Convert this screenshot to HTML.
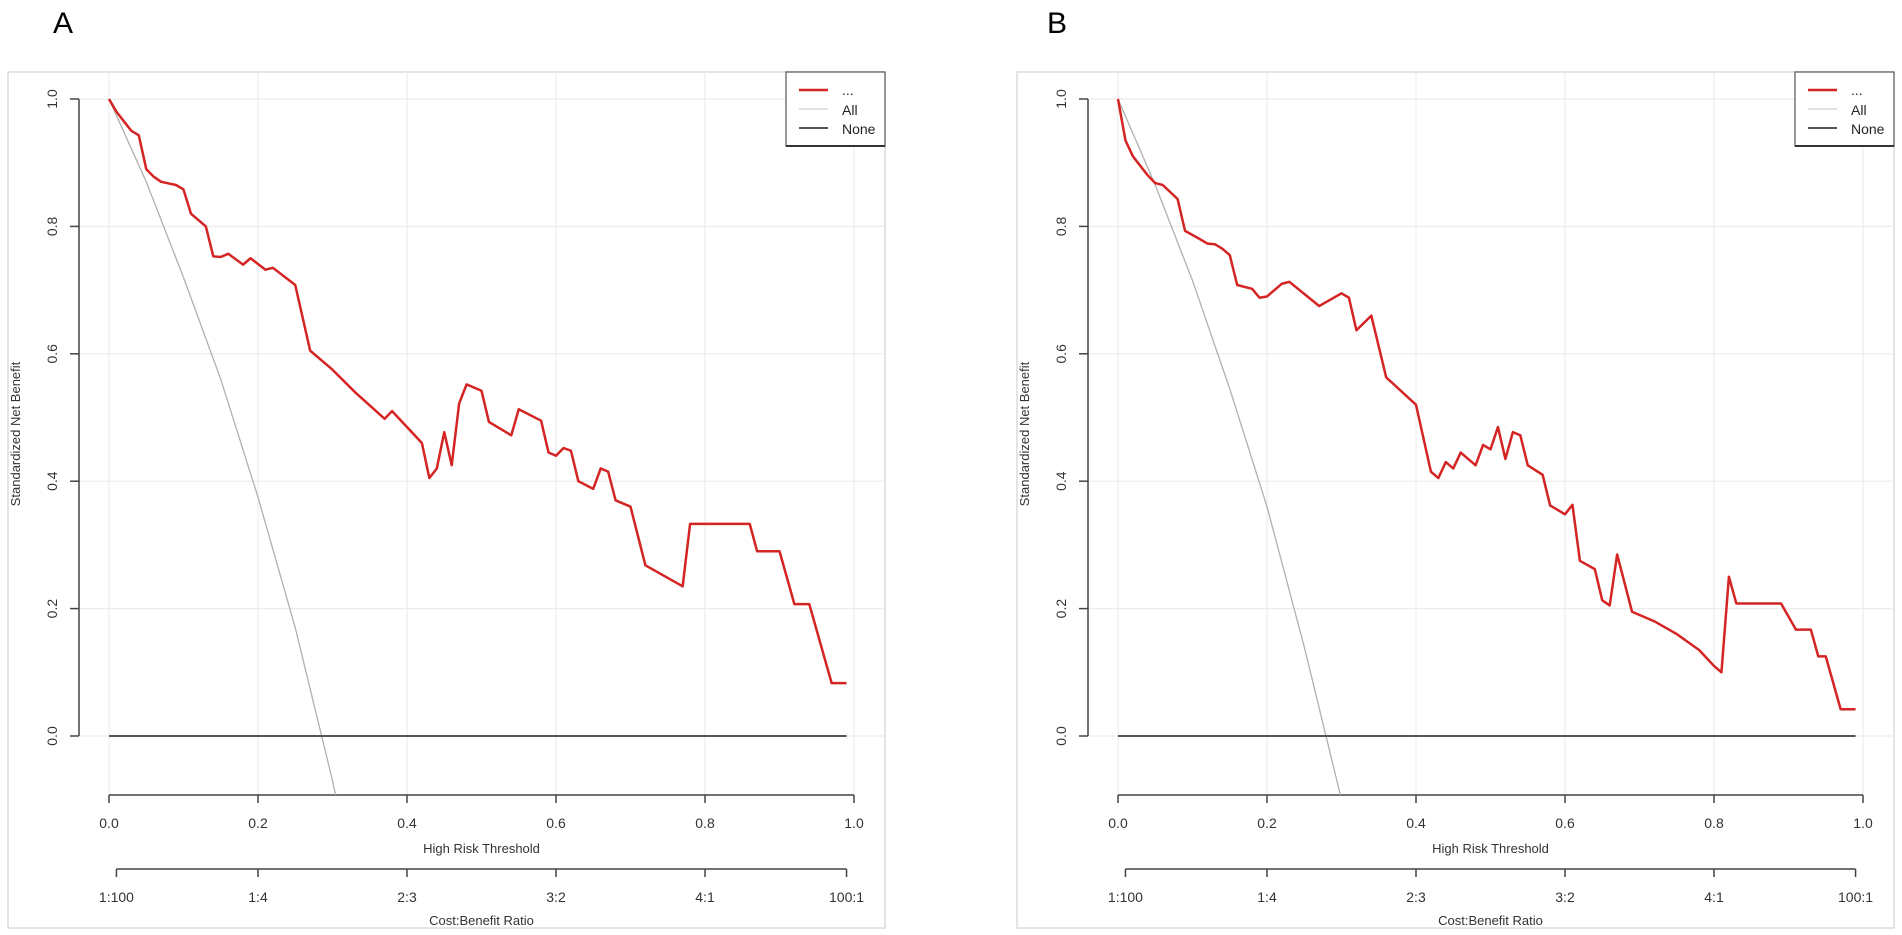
<!DOCTYPE html>
<html><head><meta charset="utf-8"><style>
html,body{margin:0;padding:0;background:#fff;}
svg{display:block;font-family:"Liberation Sans",Arial,sans-serif;}
</style></head><body>
<svg id="chart" width="1902" height="935" viewBox="0 0 1902 935"></svg>
<script>
const xTicks = [0, 0.2, 0.4, 0.6, 0.8, 1.0];
const xTickLabels = ["0.0", "0.2", "0.4", "0.6", "0.8", "1.0"];
const yTicks = [0, 0.2, 0.4, 0.6, 0.8, 1.0];
const yTickLabels = ["0.0", "0.2", "0.4", "0.6", "0.8", "1.0"];
const costTicks = [0.01, 0.2, 0.4, 0.6, 0.8, 0.99];
const costLabels = ["1:100", "1:4", "2:3", "3:2", "4:1", "100:1"];
const panelLabels = ["A", "B"];

const modelAx = [0,0.01,0.02,0.03,0.04,0.05,0.06,0.07,0.09,0.10,0.11,0.13,0.14,0.15,0.16,0.18,0.19,0.21,0.22,0.25,0.27,0.30,0.33,0.37,0.38,0.42,0.43,0.44,0.45,0.46,0.47,0.48,0.50,0.51,0.54,0.55,0.58,0.59,0.60,0.61,0.62,0.63,0.65,0.66,0.67,0.68,0.70,0.72,0.77,0.78,0.86,0.87,0.90,0.92,0.94,0.97,0.99];
const modelAy = [1.00,0.98,0.965,0.95,0.943,0.89,0.878,0.87,0.865,0.858,0.82,0.80,0.753,0.752,0.757,0.74,0.75,0.732,0.735,0.708,0.605,0.575,0.54,0.498,0.51,0.46,0.405,0.42,0.477,0.425,0.522,0.552,0.542,0.493,0.472,0.513,0.495,0.445,0.44,0.452,0.448,0.40,0.388,0.42,0.415,0.37,0.36,0.268,0.235,0.333,0.333,0.29,0.29,0.207,0.207,0.083,0.083];
const modelBx = [0,0.01,0.02,0.04,0.05,0.06,0.08,0.09,0.11,0.12,0.13,0.14,0.15,0.16,0.18,0.19,0.20,0.22,0.23,0.27,0.30,0.31,0.32,0.34,0.36,0.40,0.42,0.43,0.44,0.45,0.46,0.48,0.49,0.50,0.51,0.52,0.53,0.54,0.55,0.57,0.58,0.60,0.61,0.62,0.64,0.65,0.66,0.67,0.69,0.72,0.75,0.78,0.80,0.81,0.82,0.83,0.89,0.91,0.93,0.94,0.95,0.97,0.99];
const modelBy = [1.00,0.935,0.91,0.88,0.868,0.865,0.843,0.793,0.78,0.773,0.772,0.765,0.755,0.708,0.702,0.688,0.69,0.71,0.713,0.675,0.695,0.688,0.637,0.66,0.563,0.52,0.415,0.405,0.43,0.42,0.445,0.425,0.457,0.45,0.485,0.435,0.477,0.472,0.425,0.41,0.362,0.348,0.363,0.275,0.262,0.213,0.205,0.285,0.195,0.18,0.16,0.135,0.11,0.10,0.25,0.208,0.208,0.167,0.167,0.125,0.125,0.042,0.042];
const allX = [0,0.05,0.10,0.15,0.20,0.25,0.30,0.32];
const allAy = [1.0,0.87,0.72,0.56,0.375,0.17,-0.07,-0.18];
const allBy = [1.0,0.865,0.715,0.545,0.36,0.14,-0.10,-0.20];
const noneX = [0, 0.99];
const noneY = [0, 0];

const NS = "http://www.w3.org/2000/svg";
const svg = document.getElementById("chart");
function mk(tag, attrs, parent){const e=document.createElementNS(NS,tag);for(const k in attrs)e.setAttribute(k,attrs[k]);(parent||svg).appendChild(e);return e;}

const panels = [
 {ox:0, mx:modelAx, my:modelAy, ay:allAy},
 {ox:1009, mx:modelBx, my:modelBy, ay:allBy}
];

panels.forEach((p,i)=>{
 const g = mk("g",{});
 
 
 const x0=109+p.ox, x1=854+p.ox;
 const X = v => x0 + v*(x1-x0);
 const Y = v => 736 - v*637;
 const fl = 8+p.ox, fr = 885+p.ox;
 const frame = mk("rect",{x:fl,y:72,width:fr-fl,height:856,fill:"none",stroke:"#dcdcdc","stroke-width":1.5},g);
 
 
 const lab = mk("text",{x:63+p.ox-(i?15:0),y:33,"font-size":30,fill:"#000","text-anchor":"middle"},g);
 lab.textContent = panelLabels[i];
 
 
 // grid
 xTicks.forEach(t=>{
  const l=mk("line",{x1:X(t),x2:X(t),y1:72,y2:795,stroke:"#ececec","stroke-width":1.2},g);
  
  
 });
 yTicks.forEach(t=>{
  const l=mk("line",{x1:80+p.ox,x2:fr,y1:Y(t),y2:Y(t),stroke:"#ececec","stroke-width":1.2},g);
  
  
 });
 // y axis
 const ya=mk("line",{x1:79+p.ox,x2:79+p.ox,y1:Y(0),y2:Y(1),stroke:"#444","stroke-width":1.5},g);
 
 
 yTicks.forEach((t,k)=>{
  mk("line",{x1:70+p.ox,x2:79+p.ox,y1:Y(t),y2:Y(t),stroke:"#444","stroke-width":1.5},g);
  const tx=mk("text",{x:57+p.ox,y:Y(t),"font-size":14,fill:"#333","text-anchor":"middle",transform:`rotate(-90 ${57+p.ox} ${Y(t)})`},g);
  tx.textContent=yTickLabels[k];
  
  
 });
 const yt=mk("text",{x:20+p.ox,y:434,"font-size":13,fill:"#333","text-anchor":"middle",transform:`rotate(-90 ${20+p.ox} 434)`},g);
 yt.textContent="Standardized Net Benefit";
 
 
 // x axis
 const xa=mk("line",{x1:X(0),x2:X(1),y1:795,y2:795,stroke:"#444","stroke-width":1.5},g);
 
 
 xTicks.forEach((t,k)=>{
  mk("line",{x1:X(t),x2:X(t),y1:795,y2:803,stroke:"#444","stroke-width":1.5},g);
  const tx=mk("text",{x:X(t),y:828,"font-size":14,fill:"#333","text-anchor":"middle"},g);
  tx.textContent=xTickLabels[k];
  
  
 });
 const xt=mk("text",{x:(x0+x1)/2,y:853,"font-size":13,fill:"#333","text-anchor":"middle"},g);
 xt.textContent="High Risk Threshold";
 
 
 // cost axis
 const ca=mk("line",{x1:X(costTicks[0]),x2:X(costTicks[costTicks.length-1]),y1:869,y2:869,stroke:"#444","stroke-width":1.5},g);
 
 
 costTicks.forEach((t,k)=>{
  mk("line",{x1:X(t),x2:X(t),y1:869,y2:877,stroke:"#444","stroke-width":1.5},g);
  const tx=mk("text",{x:X(t),y:902,"font-size":14,fill:"#333","text-anchor":"middle"},g);
  tx.textContent=costLabels[k];
  
  
 });
 const ct=mk("text",{x:(x0+x1)/2,y:925,"font-size":13,fill:"#333","text-anchor":"middle"},g);
 ct.textContent="Cost:Benefit Ratio";
 
 
 // clip
 const cp=mk("clipPath",{id:"clip"+i},g);
 mk("rect",{x:x0-5,y:72,width:x1-x0+10,height:795-72},cp);
 const series=mk("g",{"clip-path":`url(#clip${i})`},g);
 const all=mk("polyline",{points:allX.map((v,k)=>X(v)+","+Y(p.ay[k])).join(" "),fill:"none",stroke:"#b0b0b0","stroke-width":1.3},series);
 
 
 const none=mk("polyline",{points:noneX.map((v,k)=>X(v)+","+Y(noneY[k])).join(" "),fill:"none",stroke:"#555","stroke-width":2},series);
 
 
 const mdl=mk("polyline",{points:p.mx.map((v,k)=>X(v)+","+Y(p.my[k])).join(" "),fill:"none",stroke:"#d42424","stroke-width":2.5,"stroke-linejoin":"round"},series);
 
 
 // legend
 const lx=786+p.ox;
 const lg=mk("g",{},g);
 
 
 mk("rect",{x:lx,y:72,width:99,height:74,fill:"#fff",stroke:"#555","stroke-width":1.2},lg);
 mk("line",{x1:lx,x2:lx+99,y1:146,y2:146,stroke:"#333","stroke-width":2},lg);
 const ent=[["...","#d42424",2.5,90,95],["All","#cfcfcf",1.3,109,115],["None","#555",2,128,134]];
 ent.forEach(e=>{
  const eg=mk("g",{},lg);
  
  
  mk("line",{x1:lx+13,x2:lx+42,y1:e[3],y2:e[3],stroke:e[1],"stroke-width":e[2]},eg);
  const t=mk("text",{x:lx+56,y:e[4],"font-size":14,fill:"#222"},eg);
  t.textContent=e[0];
 });
});
</script>
</body></html>
